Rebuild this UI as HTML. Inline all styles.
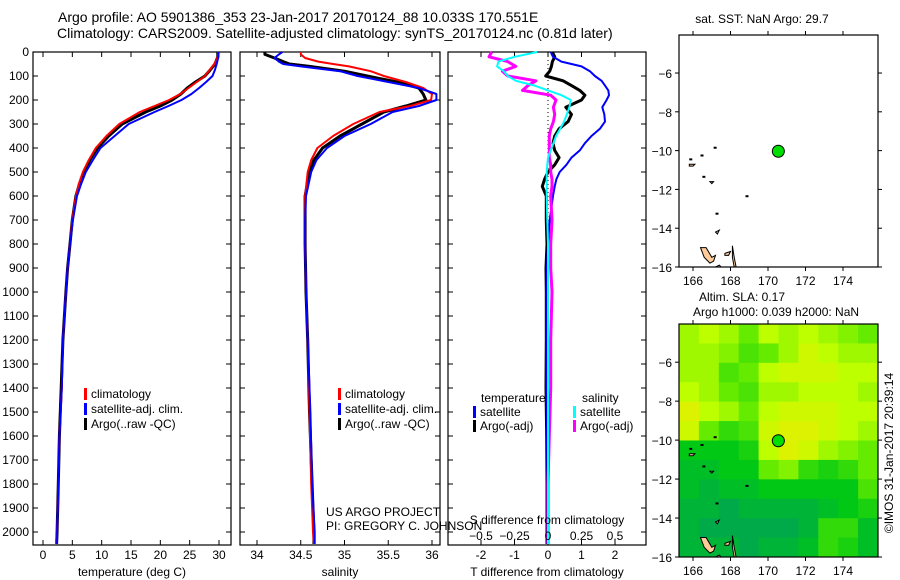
<!DOCTYPE html>
<html><head><meta charset="utf-8">
<style>
body{margin:0;background:#fff;}
svg{display:block;font-family:"Liberation Sans",sans-serif;}
</style></head>
<body>
<svg id="fig" width="900" height="580" viewBox="0 0 900 580">
<text x="58" y="22" font-size="14">Argo profile: AO 5901386_353 23-Jan-2017 20170124_88 10.033S 170.551E</text>
<text x="57" y="38" font-size="14">Climatology: CARS2009. Satellite-adjusted climatology: synTS_20170124.nc (0.81d later)</text>
<g id="g"></g>
</svg>
<script>
// ---------- data ----------
const depthT = [0,20,50,75,100,125,150,175,200,225,250,300,350,400,450,500,550,600,700,800,900,1000,1200,1400,1600,1800,2000,2050];
const tempArgo = [29.8,29.8,29.3,28.5,27.6,26.0,24.6,23.5,22.0,20.0,17.5,13.5,11.2,9.3,8.0,7.0,6.2,5.6,5.0,4.6,4.2,3.9,3.4,3.1,2.8,2.6,2.4,2.3];
const tempClim = [29.9,29.8,29.2,28.4,27.6,26.2,24.8,23.4,21.5,19.0,16.5,13.0,10.8,9.0,7.8,6.8,6.1,5.6,5.0,4.6,4.2,3.9,3.4,3.2,2.8,2.6,2.4,2.2];
const tempSat = [29.95,29.9,29.6,29.3,28.9,27.8,26.6,25.3,23.6,21.4,19.0,14.6,12.2,9.8,8.5,7.3,6.5,5.8,5.1,4.6,4.2,3.9,3.4,3.2,2.8,2.6,2.4,2.4];

const depthS = [0,10,25,40,50,60,80,100,125,150,175,200,225,250,300,350,400,450,500,600,700,800,1000,1200,1500,1800,2000,2050];
const salArgo = [34.09,34.09,34.2,34.3,34.37,34.6,35.0,35.26,35.6,35.85,35.9,35.93,35.7,35.45,35.2,34.95,34.75,34.65,34.6,34.55,34.55,34.55,34.56,34.58,34.6,34.63,34.65,34.65];
const salClim = [34.5,34.5,34.55,34.7,34.87,35.05,35.3,35.45,35.7,35.9,36.0,35.99,35.75,35.4,35.1,34.87,34.69,34.62,34.58,34.55,34.55,34.55,34.56,34.58,34.6,34.62,34.64,34.65];
const salSat = [34.29,34.25,34.2,34.25,34.3,34.5,34.95,35.15,35.5,35.85,36.05,36.05,35.85,35.55,35.3,35.0,34.8,34.68,34.62,34.56,34.55,34.55,34.56,34.58,34.61,34.63,34.66,34.66];

const depthD = [0,20,40,60,80,100,120,140,160,180,200,230,260,290,320,350,380,410,440,470,500,530,560,600,700,800,900,1000,1200,1400,1600,1800,2000,2050];
const tDiffSat = [0.08,0.15,0.4,1.0,1.25,1.4,1.6,1.7,1.8,1.82,1.75,1.62,1.68,1.7,1.55,1.3,1.1,0.95,0.7,0.55,0.35,0.25,0.2,0.15,0.05,0,-0.03,-0.05,-0.05,-0.05,-0.03,-0.02,-0.02,-0.02];
const tDiffArgo = [0.13,0.2,0.13,0.1,0.05,-0.07,0.45,0.7,0.95,1.1,1.0,0.53,0.7,0.6,0.33,0.2,0.15,0.2,0.33,0.2,0,-0.1,-0.17,-0.05,-0.05,-0.03,-0.06,-0.05,-0.05,-0.06,-0.04,-0.03,-0.03,-0.03];
const sDiffSat = [-0.08,-0.25,-0.37,-0.38,-0.33,-0.3,-0.24,-0.1,0,0.1,0.17,0.16,0.14,0.12,0.09,0.06,0.04,0.02,0,-0.005,-0.01,-0.01,-0.01,-0.01,-0.005,0,0,0,0,0,0,0,0,0];
const sDiffArgo = [-0.42,-0.44,-0.3,-0.24,-0.34,-0.3,-0.09,-0.15,-0.19,0.02,0.06,0.04,0.05,0.04,0.02,0.01,0.01,0.01,0.01,0.02,0.02,0.03,0.03,0.02,0.03,0.02,0.02,0.03,0.02,0.02,0.01,0,0,0];

const depthTicks = [0,100,200,300,400,500,600,700,800,900,1000,1100,1200,1300,1400,1500,1600,1700,1800,1900,2000];
const tempTicks = [0,5,10,15,20,25,30];
const salTicks = [34,34.5,35,35.5,36];
const tDiffTicks = [-2,-1,0,1,2];
const sDiffTicks = [-0.5,-0.25,0,0.25,0.5];
const lonTicks = [166,168,170,172,174];
const latTicks = [-6,-8,-10,-12,-14,-16];
const argoLon = 170.551, argoLat = -10.033;
const slaGrid = [
 [.7,.75,.7,.6,.75,.7,.75,.7,.65,.6],
 [.7,.7,.65,.55,.6,.7,.8,.75,.7,.7],
 [.7,.7,.55,.6,.75,.8,.8,.8,.75,.75],
 [.75,.7,.6,.55,.7,.7,.75,.75,.75,.7],
 [.85,.75,.7,.6,.75,.8,.8,.8,.75,.75],
 [.8,.6,.5,.55,.8,.85,.85,.8,.75,.7],
 [.4,.4,.4,.45,.75,.85,.8,.7,.65,.6],
 [.35,.35,.4,.4,.6,.65,.5,.45,.5,.6],
 [.35,.3,.35,.35,.4,.4,.4,.4,.4,.55],
 [.3,.3,.25,.3,.3,.3,.3,.35,.4,.45],
 [.3,.25,.25,.25,.25,.25,.3,.5,.5,.35],
 [.3,.3,.3,.25,.3,.3,.35,.5,.45,.35]];

// ---------- helpers ----------
const NS="http://www.w3.org/2000/svg";
const G=document.getElementById('g');
function el(tag,attrs,parent){const e=document.createElementNS(NS,tag);for(const k in attrs)e.setAttribute(k,attrs[k]);(parent||G).appendChild(e);return e;}
function txt(x,y,s,size,anchor,parent){const t=el('text',{x:x,y:y,'font-size':size||12,'text-anchor':anchor||'start'},parent);t.textContent=s;return t;}

const PT=52,PB=545;
const yD=d=>52+d*0.24;

function panel(name,x0,x1,xs,ticks,xlabel,yLabels){
  const g=el('g',{});
  
  
  const r=el('rect',{x:x0,y:PT,width:x1-x0,height:PB-PT,fill:'none',stroke:'#000','stroke-width':1.2},g);
  
  
  ticks.forEach(v=>{const x=xs(v);
    el('line',{x1:x,x2:x,y1:PT,y2:PT+5,stroke:'#000'},g);
    el('line',{x1:x,x2:x,y1:PB,y2:PB-5,stroke:'#000'},g);
    const t=txt(x,559,String(v),12,'middle',g);
    
    
  });
  depthTicks.forEach(d=>{const y=yD(d);
    el('line',{x1:x0,x2:x0+5,y1:y,y2:y,stroke:'#000'},g);
    el('line',{x1:x1,x2:x1-5,y1:y,y2:y,stroke:'#000'},g);
    if(yLabels){const t=txt(x0-4,y+4,String(d),12,'end',g);
      
      }
  });
  const t=txt((x0+x1)/2,576,xlabel,12,'middle',g);
  
  
  return g;
}
function line(depths,vals,xs,color,w,name){
  const p=depths.map((d,i)=>xs(vals[i]).toFixed(1)+','+yD(d).toFixed(1)).join(' ');
  const l=el('polyline',{points:p,fill:'none',stroke:color,'stroke-width':w,'stroke-linejoin':'round'});
  
  
}
function legend(x,y,color,label,name){
  const b=el('rect',{x:x,y:y-10,width:3,height:12,fill:color});
  
  
  const t=txt(x+7,y,label,12);
  
  
}

// Panel 1: temperature
const xT=v=>43+v*(176/30);
panel('temperature-panel',33,231,xT,tempTicks,'temperature (deg C)',true);
line(depthT,tempArgo,xT,'#000',3,'temp-argo-line');
line(depthT,tempClim,xT,'#f00',2,'temp-climatology-line');
line(depthT,tempSat,xT,'#00f',2,'temp-satellite-line');
legend(84,398,'#f00','climatology','legend-climatology');
legend(84,413,'#00f','satellite-adj. clim.','legend-satellite');
legend(84,428,'#000','Argo(..raw -QC)','legend-argo');

// Panel 2: salinity
const xS=v=>257+(v-34)*87.5;
panel('salinity-panel',240,440,xS,salTicks,'salinity',false);
line(depthS,salArgo,xS,'#000',3,'sal-argo-line');
line(depthS,salClim,xS,'#f00',2,'sal-climatology-line');
line(depthS,salSat,xS,'#00f',2,'sal-satellite-line');
legend(338,398,'#f00','climatology','legend-climatology-2');
legend(338,413,'#00f','satellite-adj. clim.','legend-satellite-2');
legend(338,428,'#000','Argo(..raw -QC)','legend-argo-2');

// Panel 3: differences
const xTD=v=>548+v*33.5;
const xSD=v=>548+v*134;
panel('difference-panel',448,646,xTD,tDiffTicks,'T difference from climatology',false);
el('line',{x1:548,x2:548,y1:PT,y2:PB,stroke:'#000','stroke-dasharray':'1,3'});
line(depthD,tDiffArgo,xTD,'#000',3,'tdiff-argo-line');
line(depthD,tDiffSat,xTD,'#00f',2,'tdiff-satellite-line');
line(depthD,sDiffArgo,xSD,'#f0f',3,'sdiff-argo-line');
line(depthD,sDiffSat,xSD,'#0ff',2,'sdiff-satellite-line');
sDiffTicks.forEach(v=>{const t=txt(xSD(v),540,String(v).replace('-','\u2212'),12,'middle');
  
  });
{const t=txt(547,524,'S difference from climatology',12,'middle');
 
 }
{const t=txt(481,402,'temperature',12);
 const s=txt(582,402,'salinity',12);}
legend(473,416,'#00f','satellite','legend-t-satellite');
legend(473,430,'#000','Argo(-adj)','legend-t-argo');
legend(573,416,'#0ff','satellite','legend-s-satellite');
legend(573,430,'#f0f','Argo(-adj)','legend-s-argo');

{const a=txt(326,516,'US ARGO PROJECT',12);
 const b=txt(326,530,'PI: GREGORY C. JOHNSON',12);}

// ---------- maps ----------
const mx=lon=>693+(lon-166)*18.75;
function mapFrame(name,y0,y1){
  const my=lat=>y1-(lat+16)*((y1-y0)/11.96);
  const g=el('g',{});
  
  
  return {g,my,y0,y1};
}
function mapAxes(m){
  const g=m.g;
  const r=el('rect',{x:679,y:m.y0,width:199,height:m.y1-m.y0,fill:'none',stroke:'#000','stroke-width':1.2},g);
  
  
  lonTicks.forEach(v=>{const x=mx(v);
    el('line',{x1:x,x2:x,y1:m.y0-4,y2:m.y0,stroke:'#000'},g);
    el('line',{x1:x,x2:x,y1:m.y1,y2:m.y1+4,stroke:'#000'},g);
    const t=txt(x,m.y1+18,String(v),12,'middle',g);
    
    });
  latTicks.forEach(v=>{const y=m.my(v);
    el('line',{x1:675,x2:679,y1:y,y2:y,stroke:'#000'},g);
    el('line',{x1:878,x2:882,y1:y,y2:y,stroke:'#000'},g);
    const t=txt(672,y+5,String(v).replace('-','\u2212'),12,'end',g);
    
    });
}
function islands(m){
  const g=m.g, my=m.my;
  const shapes=[[[166.4,-15.0],[166.7,-15.0],[167.0,-15.5],[167.2,-15.4],[167.1,-15.7],[166.9,-15.8],[166.6,-15.5]],
    [[165.8,-10.7],[166.1,-10.7],[166.0,-10.8],[165.8,-10.8]],
    [[166.9,-11.6],[167.1,-11.6],[167.0,-11.7]],
    [[167.2,-14.2],[167.4,-14.1],[167.3,-14.3]],
    [[167.7,-15.3],[168.0,-15.2],[167.9,-15.4],[167.7,-15.4]],
    [[168.1,-14.9],[168.2,-15.5],[168.3,-16.0],[168.2,-16.0],[168.1,-15.5]],
    [[167.2,-16.0],[167.4,-15.9],[167.5,-16.0]]];
  shapes.forEach(s=>{const p=el('polygon',{points:s.map(q=>mx(q[0]).toFixed(1)+','+my(q[1]).toFixed(1)).join(' '),fill:'#fc9',stroke:'#000','stroke-width':1},g);
    
    });
  [[167.1,-9.8],[166.4,-10.2],[166.5,-11.3],[167.2,-13.2],[168.8,-12.3],[165.8,-10.4]].forEach(q=>{
    const d=el('rect',{x:mx(q[0]),y:my(q[1]),width:3,height:2,fill:'#000'},g);
    
    });
}
function argoDot(m){
  const c=el('circle',{cx:mx(argoLon),cy:m.my(argoLat),r:6,fill:'#0d0',stroke:'#000','stroke-width':1},m.g);
  
  
}

// Map 1 SST
const m1=mapFrame('sst-map',35,267);
islands(m1);argoDot(m1);mapAxes(m1);
{const t=txt(762,23,'sat. SST: NaN Argo: 29.7',12,'middle');}

// Map 2 SLA
const m2=mapFrame('sla-map',324,557);
function slaColor(v){
  const stops=[[0.2,[0,160,90]],[0.4,[0,200,20]],[0.6,[100,235,0]],[0.75,[190,255,0]],[0.9,[235,235,0]]];
  if(v<=stops[0][0])return 'rgb('+stops[0][1]+')';
  for(let i=1;i<stops.length;i++){if(v<=stops[i][0]){const a=stops[i-1],b=stops[i],f=(v-a[0])/(b[0]-a[0]);
    return 'rgb('+a[1].map((c,k)=>Math.round(c+(b[1][k]-c)*f)).join(',')+')';}}
  return 'rgb('+stops[stops.length-1][1]+')';
}
const cw=199/slaGrid[0].length, ch=(557-324)/slaGrid.length;
slaGrid.forEach((row,r)=>row.forEach((v,c)=>{
  const cell=el('rect',{x:679+c*cw,y:324+r*ch,width:cw+0.5,height:ch+0.5,fill:slaColor(v)},m2.g);
  
  
}));
islands(m2);argoDot(m2);mapAxes(m2);
{const t=txt(742,301,'Altim. SLA: 0.17',12,'middle');
 const u=txt(776,316,'Argo h1000: 0.039 h2000: NaN',12,'middle');
 const w=txt(0,0,'\u00a9IMOS 31-Jan-2017 20:39:14',12,'middle');w.setAttribute('transform','translate(893,453) rotate(-90)');
 }
</script>
</body></html>
